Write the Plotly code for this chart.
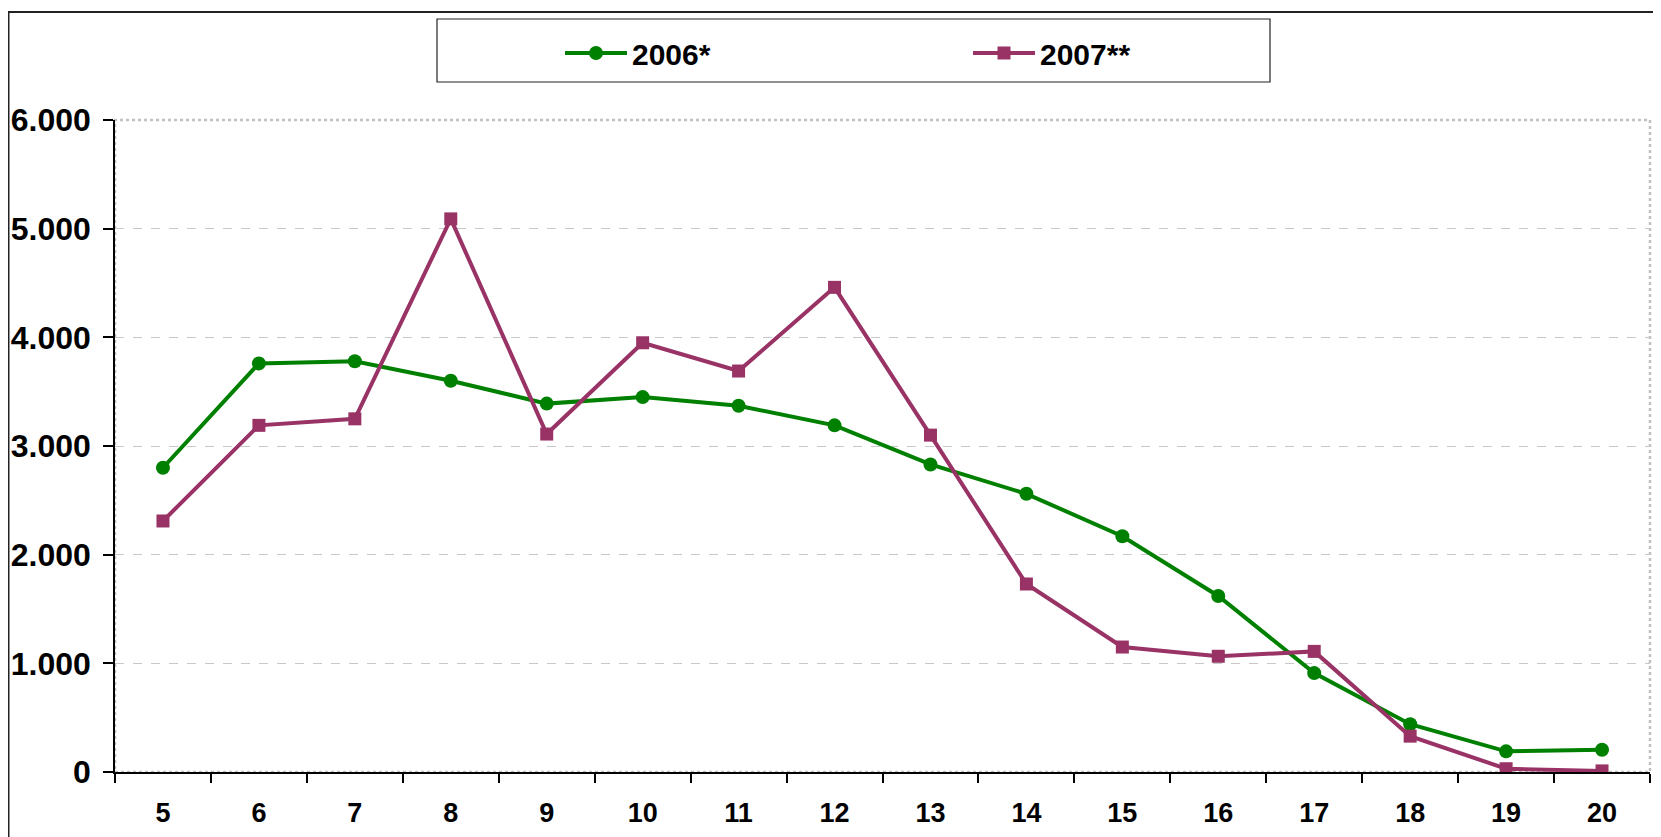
import plotly.graph_objects as go

categories = [str(v) for v in range(5, 21)]
series_2006 = [2800, 3760, 3780, 3600, 3390, 3450, 3370, 3190, 2830, 2560, 2170, 1620, 910, 440, 190, 205]
series_2007 = [2310, 3190, 3250, 5090, 3110, 3950, 3690, 4460, 3100, 1730, 1150, 1065, 1110, 330, 30, 10]
y_tickvals = [0, 1000, 2000, 3000, 4000, 5000, 6000]
y_ticktext = ["0", "1.000", "2.000", "3.000", "4.000", "5.000", "6.000"]
names = ["2006*", "2007**"]

W, H = 1661, 837
L, R, T, B = 107, 19, 112, 73
pw, ph = W - L - R, H - T - B

def px(x):
    return (x - L) / pw

def py(y):
    return (H - B - y) / ph

fig = go.Figure()
fig.add_trace(go.Scatter(
    x=categories, y=series_2006, name=names[0], mode="lines+markers",
    line=dict(color="#008000", width=4),
    marker=dict(symbol="circle", size=14, color="#008000"),
))
fig.add_trace(go.Scatter(
    x=categories, y=series_2007, name=names[1], mode="lines+markers",
    line=dict(color="#993366", width=4),
    marker=dict(symbol="square", size=13, color="#993366"),
))

shapes = [
    dict(type="rect", xref="paper", yref="paper", x0=0, x1=1, y0=0, y1=1,
         line=dict(color="#c0c0c0", width=2.5, dash="dot"), layer="below"),
    dict(type="rect", xref="paper", yref="paper", x0=px(0.5), x1=px(1670), y0=py(850), y1=py(4),
         line=dict(color="#222222", width=2)),
    dict(type="rect", xref="paper", yref="paper", x0=px(429), x1=px(1262), y0=py(74), y1=py(11),
         line=dict(color="#222222", width=1.2)),
]

fig.update_layout(
    width=W, height=H,
    margin=dict(l=L, r=R, t=T, b=B, autoexpand=False),
    paper_bgcolor="white", plot_bgcolor="white",
    shapes=shapes,
    showlegend=True,
    legend=dict(
        orientation="h", x=px(552), y=py(45), xanchor="left", yanchor="middle",
        font=dict(family="Liberation Sans, Arial, sans-serif", size=30, color="black", weight="bold"),
        bgcolor="rgba(0,0,0,0)", borderwidth=0,
        itemwidth=62, entrywidth=331, entrywidthmode="pixels",
        traceorder="normal",
    ),
    xaxis=dict(
        type="category", range=[-0.5, 15.5], automargin=False,
        tickson="boundaries", ticks="outside", ticklen=9, tickcolor="black", tickwidth=1.5,
        showline=True, linecolor="black", linewidth=1.5,
        showgrid=False, zeroline=False, ticklabelstandoff=16,
        tickfont=dict(family="Liberation Sans Narrow, Arial Narrow, Liberation Sans, sans-serif",
                      size=27, color="black", weight="bold"),
    ),
    yaxis=dict(
        range=[0, 6000], tickvals=y_tickvals, ticktext=y_ticktext, automargin=False,
        ticks="outside", ticklen=10, tickcolor="black", tickwidth=1.5,
        showline=True, linecolor="black", linewidth=1.5,
        showgrid=True, gridcolor="#c8c8c8", griddash="dash", gridwidth=1,
        zeroline=False, ticklabelstandoff=6,
        tickfont=dict(family="Liberation Sans, Arial, sans-serif", size=32, color="black", weight="bold"),
    ),
)

fig.write_html("out.html")
